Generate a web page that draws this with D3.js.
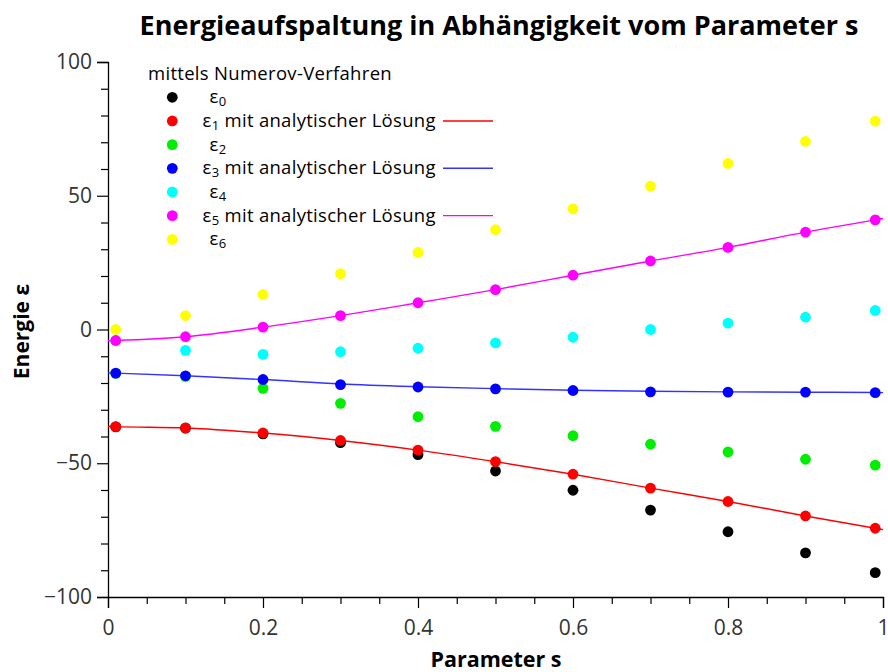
<!DOCTYPE html>
<html>
<head>
<meta charset="utf-8">
<script src="https://cdn.jsdelivr.net/npm/d3@7"></script>
<style>
  html, body { margin: 0; padding: 0; background: #fff; }
  svg { display: block; }
</style>
</head>
<body>
<svg id="chart" width="888" height="672"></svg>
<script>
// ---------- data ----------
const title = "Energieaufspaltung in Abhängigkeit vom Parameter s";
const xLabel = "Parameter s";
const yLabel = "Energie ε";
const legendTitle = "mittels Numerov-Verfahren";
const analyticSuffix = " mit analytischer Lösung";

const sValues = [0.01, 0.1, 0.2, 0.3, 0.4, 0.5, 0.6, 0.7, 0.8, 0.9, 0.99];
const eps0 = [-36.4, -36.9, -39.0, -42.3, -46.8, -52.9, -60.1, -67.5, -75.6, -83.5, -90.9];
const eps1 = [-36.3, -36.8, -38.7, -41.5, -45.1, -49.4, -54.1, -59.3, -64.3, -69.7, -74.3];
const eps2 = [-16.4, -17.5, -22.0, -27.6, -32.6, -36.2, -39.7, -42.9, -45.8, -48.5, -50.7];
const eps3 = [-16.3, -17.3, -18.7, -20.6, -21.5, -22.2, -22.8, -23.3, -23.4, -23.4, -23.6];
const eps4 = [-4.2, -7.8, -9.3, -8.3, -7.0, -5.0, -2.9, 0.0, 2.4, 4.6, 7.1];
const eps5 = [-4.1, -2.7, 0.9, 5.2, 10.0, 14.9, 20.3, 25.6, 30.7, 36.4, 41.0];
const eps6 = [0.0, 5.2, 13.1, 20.9, 28.8, 37.3, 45.1, 53.6, 62.1, 70.3, 77.9];

// analytic solutions
const sLine = [0, 0.01, 0.1, 0.2, 0.3, 0.4, 0.5, 0.6, 0.7, 0.8, 0.9, 0.99, 1];
const analytic1 = [-36.2, -36.3, -36.8, -38.7, -41.5, -45.1, -49.4, -54.1, -59.3, -64.3, -69.7, -74.3, -74.8];
const analytic3 = [-16.2, -16.3, -17.3, -18.7, -20.4, -21.4, -22.1, -22.7, -23.1, -23.3, -23.45, -23.55, -23.6];
const analytic5 = [-4.2, -4.1, -2.7, 0.9, 5.2, 10.0, 14.9, 20.3, 25.6, 30.7, 36.4, 41.0, 41.5];

const xTicks = [0, 0.2, 0.4, 0.6, 0.8, 1];
const xMinorTicks = [0.05, 0.1, 0.15, 0.25, 0.3, 0.35, 0.45, 0.5, 0.55, 0.65, 0.7, 0.75, 0.85, 0.9, 0.95];
const yTicks = [-100, -50, 0, 50, 100];
const yMinorTicks = [-90, -80, -70, -60, -40, -30, -20, -10, 10, 20, 30, 40, 60, 70, 80, 90];

const seriesNames = ["ε0", "ε1", "ε2", "ε3", "ε4", "ε5", "ε6"];
const seriesValues = [eps0, eps1, eps2, eps3, eps4, eps5, eps6];
const seriesColors = ["#000000", "#ff0000", "#00ee00", "#0000ff", "#00ffff", "#ff00ff", "#ffff00"];
const analyticIndex = [1, 3, 5];
const analyticValues = [analytic1, analytic3, analytic5];
const analyticColors = ["#ff0000", "#3333ff", "#ff00ff"];

// ---------- drawing ----------
const svg = d3.select("#chart");
const x = d3.scaleLinear().domain([0, 1]).range([108, 883]);
const y = d3.scaleLinear().domain([-100, 100]).range([597, 62]);
const fontMain = "'Open Sans', 'DejaVu Sans', sans-serif";

// title
svg.append("text")
  .attr("x", 499).attr("y", 35)
  .attr("text-anchor", "middle")
  .attr("font-family", fontMain)
  .attr("font-weight", "bold")
  .attr("font-size", 27)
  .attr("fill", "#000")
  .text(title);

// axes
const xAxis = svg.append("g").attr("transform", `translate(0,${y(-100)})`)
  .call(d3.axisBottom(x).tickValues(xTicks).tickSize(11).tickPadding(12)
    .tickFormat(d => d3.format("~g")(d)));
const xMinor = svg.append("g").attr("transform", `translate(0,${y(-100)})`)
  .call(d3.axisBottom(x).tickValues(xMinorTicks).tickSize(7).tickFormat(""));
const yAxis = svg.append("g").attr("transform", `translate(${x(0)},0)`)
  .call(d3.axisLeft(y).tickValues(yTicks).tickSize(11).tickPadding(5)
    .tickFormat(d => d < 0 ? "\u2212" + Math.abs(d) : String(d)));
const yMinor = svg.append("g").attr("transform", `translate(${x(0)},0)`)
  .call(d3.axisLeft(y).tickValues(yMinorTicks).tickSize(7).tickFormat(""));

[xAxis, xMinor, yAxis, yMinor].forEach(g => {
  g.select(".domain").attr("stroke", "#000").attr("stroke-width", 1.3);
  g.selectAll(".tick line").attr("stroke", "#000").attr("stroke-width", 1.2);
  g.selectAll(".tick text")
    .attr("font-family", fontMain)
    .attr("font-size", 21)
    .attr("fill", "#333");
});
xMinor.select(".domain").remove();
yMinor.select(".domain").remove();
xAxis.selectAll(".tick text").attr("dy", "0.71em");

// axis labels
svg.append("text")
  .attr("x", 496).attr("y", 667)
  .attr("text-anchor", "middle")
  .attr("font-family", fontMain)
  .attr("font-weight", "bold")
  .attr("font-size", 21.5)
  .text(xLabel);

svg.append("text")
  .attr("transform", `translate(29,${y(0) + 2}) rotate(-90)`)
  .attr("text-anchor", "middle")
  .attr("font-family", fontMain)
  .attr("font-weight", "bold")
  .attr("font-size", 21)
  .text(yLabel);

// analytic lines
const line = d3.line().curve(d3.curveMonotoneX)
  .x(d => x(d[0])).y(d => y(d[1]));
analyticValues.forEach((vals, i) => {
  svg.append("path")
    .datum(sLine.map((s, j) => [s, vals[j]]))
    .attr("d", line)
    .attr("fill", "none")
    .attr("stroke", analyticColors[i])
    .attr("stroke-width", 1.4);
});

// points
seriesValues.forEach((vals, i) => {
  svg.append("g").selectAll("circle")
    .data(sValues.map((s, j) => [s, vals[j]]))
    .join("circle")
    .attr("cx", d => x(d[0]))
    .attr("cy", d => y(d[1]))
    .attr("r", 5.4)
    .attr("fill", seriesColors[i]);
});

// legend
const legend = svg.append("g")
  .attr("font-family", fontMain)
  .attr("font-size", 18.5)
  .attr("letter-spacing", 0.3);
legend.append("text")
  .attr("x", 148).attr("y", 80)
  .text(legendTitle);

const rowY0 = 97.3, rowStep = 23.67;
seriesNames.forEach((name, i) => {
  const ry = rowY0 + i * rowStep;
  legend.append("circle")
    .attr("cx", 172.3).attr("cy", ry).attr("r", 5.4)
    .attr("fill", seriesColors[i]);
  const isAnalytic = analyticIndex.includes(i);
  const t = legend.append("text")
    .attr("x", isAnalytic ? 202.5 : 209.5)
    .attr("y", ry + 6)
    .attr("fill", "#000");
  t.append("tspan").text(name[0]);
  t.append("tspan").attr("font-size", 13).attr("dy", 3).text(name.slice(1));
  if (isAnalytic) {
    t.append("tspan").attr("dy", -3).text(analyticSuffix);
    const k = analyticIndex.indexOf(i);
    legend.append("line")
      .attr("x1", 443).attr("x2", 493)
      .attr("y1", ry).attr("y2", ry)
      .attr("stroke", analyticColors[k])
      .attr("stroke-width", 1.4);
  }
});
</script>
</body>
</html>
